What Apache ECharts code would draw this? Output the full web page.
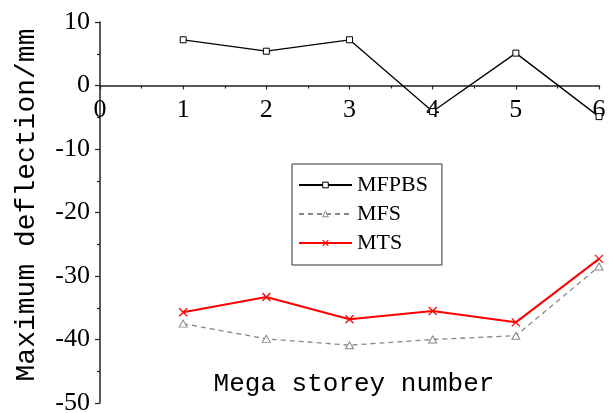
<!DOCTYPE html>
<html>
<head>
<meta charset="utf-8">
<script src="https://cdn.jsdelivr.net/npm/echarts@6/dist/echarts.min.js"></script>
<style>html,body{margin:0;padding:0;background:#fff;}#c{width:616px;height:413px;}</style>
</head>
<body>
<div id="c"></div>
<script>
var storeys = [1, 2, 3, 4, 5, 6];
var seriesNames = ['MFPBS', 'MFS', 'MTS'];
var mfpbs = [7.2, 5.4, 7.2, -4.1, 5.1, -4.9];
var mfs = [-37.5, -39.9, -40.9, -40.0, -39.4, -28.5];
var mts = [-35.7, -33.3, -36.8, -35.5, -37.3, -27.3];
var yTicks = { min: -50, max: 10, interval: 10 };
var xTicks = { min: 0, max: 6, interval: 1 };

function pairs(vals) { return storeys.map(function (s, i) { return [s, vals[i]]; }); }

var gridTop = 22, gridBottom = 10, H = 413;
var plotH = H - gridTop - gridBottom;
// distance from bottom of plot to the y = 0 line (axis crosses at zero)
var zeroOffset = plotH * (0 - yTicks.min) / (yTicks.max - yTicks.min);

var chart = echarts.init(document.getElementById('c'), null, { renderer: 'canvas' });
var serif = '"Liberation Serif", "Times New Roman", serif';
var mono = '"Liberation Mono", "Courier New", monospace';
var legendMarkerStyles = [
  { color: '#fff', borderColor: '#000', borderWidth: 1 },
  { color: '#fff', borderColor: '#888', borderWidth: 1 },
  { color: 'none', borderColor: '#f00', borderWidth: 1.2 }
];
chart.setOption({
  animation: false,
  backgroundColor: '#fff',
  grid: { left: 100, right: 17, top: gridTop, bottom: gridBottom, containLabel: false, outerBoundsMode: 'none' },
  xAxis: {
    type: 'value', min: xTicks.min, max: xTicks.max, interval: xTicks.interval,
    offset: -zeroOffset,
    axisLine: { onZero: false, lineStyle: { color: '#222', width: 1.5 } },
    axisTick: { show: true, length: 4, lineStyle: { color: '#222', width: 1.2 } },
    minorTick: { show: true, splitNumber: 2, length: 3, lineStyle: { color: '#222', width: 1.2 } },
    axisLabel: { fontFamily: serif, fontSize: 26, color: '#000', margin: 12 },
    splitLine: { show: false }
  },
  yAxis: {
    type: 'value', min: yTicks.min, max: yTicks.max, interval: yTicks.interval,
    axisLine: { show: true, lineStyle: { color: '#222', width: 1.5 } },
    axisTick: { show: true, length: 5, lineStyle: { color: '#222', width: 1.2 } },
    minorTick: { show: true, splitNumber: 2, length: 3, lineStyle: { color: '#222', width: 1.2 } },
    axisLabel: { fontFamily: serif, fontSize: 26, color: '#000', margin: 10 },
    splitLine: { show: false }
  },
  legend: {
    left: 292, top: 164,
    orient: 'vertical',
    borderColor: '#333', borderWidth: 1,
    padding: [10, 14, 11, 6],
    itemWidth: 53, itemHeight: 7, itemGap: 7,
    textStyle: { fontFamily: serif, fontSize: 22, lineHeight: 22, color: '#000' },
    data: seriesNames.map(function (n, i) { return { name: n, itemStyle: legendMarkerStyles[i] }; })
  },
  graphic: [
    { type: 'text', x: 27, y: 205, rotation: Math.PI / 2,
      style: { text: 'Maximum deflection/mm', font: '28px ' + mono, fill: '#000', textAlign: 'center', textVerticalAlign: 'middle' } },
    { type: 'text', x: 354, y: 384,
      style: { text: 'Mega storey number', font: '26px ' + mono, fill: '#000', textAlign: 'center', textVerticalAlign: 'middle' } }
  ],
  series: [
    { name: seriesNames[0], type: 'line', data: pairs(mfpbs),
      symbol: 'rect', symbolSize: 6,
      itemStyle: { color: '#fff', borderColor: '#000', borderWidth: 1 },
      lineStyle: { color: '#000', width: 1.3 } },
    { name: seriesNames[1], type: 'line', data: pairs(mfs),
      symbol: 'triangle', symbolSize: [8, 7],
      itemStyle: { color: '#fff', borderColor: '#888', borderWidth: 1 },
      lineStyle: { color: '#888', width: 1.3, type: [5, 4] } },
    { name: seriesNames[2], type: 'line', data: pairs(mts),
      symbol: 'path://M0,0L10,10M10,0L0,10', symbolSize: 8,
      itemStyle: { color: 'none', borderColor: '#f00', borderWidth: 1.3 },
      lineStyle: { color: '#f00', width: 2 } }
  ]
});
</script>
</body>
</html>
